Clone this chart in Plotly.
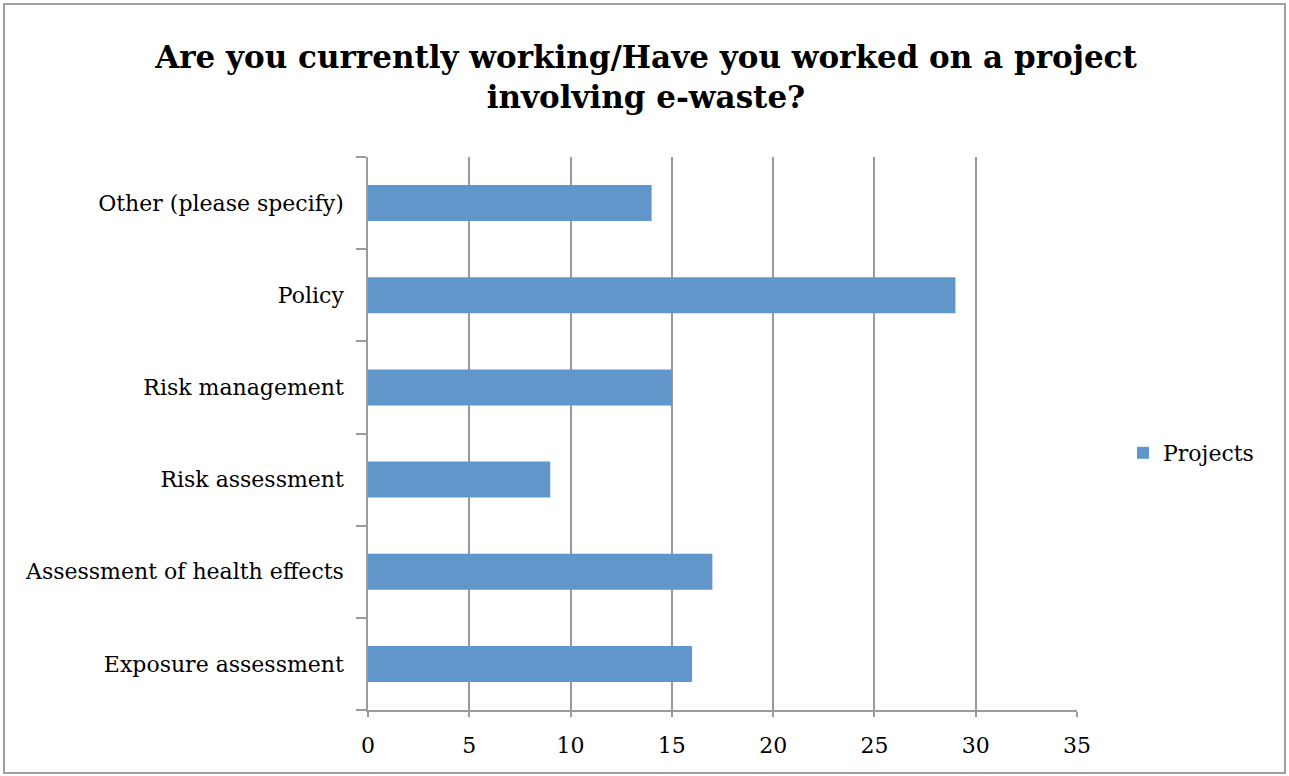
import plotly.graph_objects as go

categories = ["Exposure assessment", "Assessment of health effects", "Risk assessment",
              "Risk management", "Policy", "Other (please specify)"]
values = [16, 17, 9, 15, 29, 14]
series_name = "Projects"
title = "Are you currently working/Have you worked on a project<br>involving e-waste?"

FONT = "DejaVu Serif"
GRID = "#9a9a9a"

fig = go.Figure()
fig.add_trace(go.Bar(
    y=categories, x=values, orientation="h", name=series_name,
    marker=dict(color="#6096C9", line=dict(width=0)),
    showlegend=True,
))

W, H = 1289, 776
L, R, T, B = 368, 212, 157, 66
pw, ph = W - L - R, H - T - B

def px(x):
    return (x - L) / pw

def py(y):
    return (H - B - y) / ph

fig.update_layout(
    width=W, height=H,
    margin=dict(l=L, r=R, t=T, b=B, autoexpand=False),
    paper_bgcolor="white", plot_bgcolor="white",
    font=dict(family=FONT, size=22, color="black"),
    title=dict(text=title, x=646 / W, xref="container", xanchor="center",
               y=1 - 68 / H, yref="container", yanchor="middle",
               font=dict(family=FONT, size=31, color="black", weight="bold")),
    bargap=0.61,
    showlegend=True,
    legend=dict(x=px(1123), y=py(453), xanchor="left", yanchor="middle",
                font=dict(family=FONT, size=22), bgcolor="rgba(0,0,0,0)",
                itemwidth=30),
    xaxis=dict(range=[0, 35], dtick=5, tick0=0, showgrid=True, gridcolor=GRID, gridwidth=1.5,
               showline=True, linecolor=GRID, linewidth=1.5, ticks="outside", ticklen=5,
               tickcolor=GRID, tickwidth=1.5, zeroline=False, fixedrange=True,
               tickfont=dict(family=FONT, size=22), ticklabelstandoff=10),
    yaxis=dict(type="category", categoryorder="array", categoryarray=categories,
               showline=True, linecolor=GRID, linewidth=1.5, ticks="outside", ticklen=10,
               tickcolor=GRID, tickwidth=1.5, tickson="boundaries", showgrid=False,
               fixedrange=True,
               tickfont=dict(family=FONT, size=22), ticklabelstandoff=18),
    shapes=[dict(type="rect", xref="paper", yref="paper",
                 x0=px(4), x1=px(1285), y0=py(773), y1=py(4),
                 line=dict(color="#a0a0a0", width=2), fillcolor="rgba(0,0,0,0)", layer="below")],
)

fig.write_html("out.html", config={"displayModeBar": False},
               post_script="document.body.style.margin='0';document.body.style.padding='0';")
